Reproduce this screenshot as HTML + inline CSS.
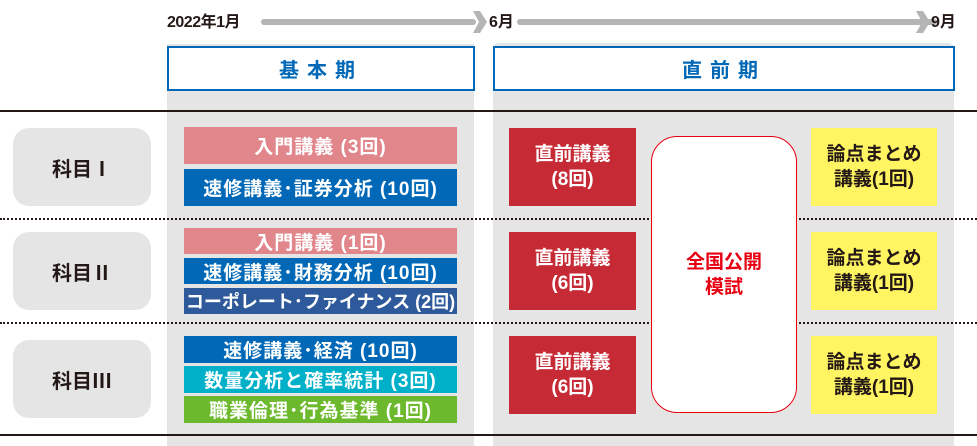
<!DOCTYPE html>
<html><head><meta charset="utf-8"><style>
body{margin:0;width:977px;height:446px;position:relative;overflow:hidden;background:#fff;font-family:"Liberation Sans","Noto Sans CJK JP",sans-serif;font-weight:bold}
div{position:absolute;box-sizing:border-box}
.c{display:flex;align-items:center;justify-content:center;text-align:center;white-space:nowrap}
.bar{left:184px;width:273px;color:#fff;font-size:19px;letter-spacing:1px}
.red{left:509px;width:127px;background:#c62a34;color:#fff;font-size:19px;line-height:25px}
.yel{left:811px;width:126px;background:#fff462;color:#231815;font-size:19px;line-height:25px}
.lab{left:13px;width:138px;background:#e5e5e5;border-radius:16px;font-size:20px;color:#231815}
.dot{left:0;width:977px;height:0;border-top:2px dotted #231815}
</style></head><body>
<div style="left:167px;top:44px;width:307px;height:402px;background:#e5e5e5"></div>
<div style="left:493px;top:43px;width:461px;height:403px;background:#e5e5e5;border-radius:6px 6px 0 0"></div>
<div style="left:167px;top:8px;font-size:16px;color:#231815;letter-spacing:-0.5px">2022年1月</div>
<div style="left:261px;top:19px;width:215px;height:6px;background:#b5b5b5;border-radius:3px"></div>
<svg style="position:absolute;left:473px;top:11px" width="15" height="22"><polygon points="0,0 7,0 14,11 7,22 0,22 6,11" fill="#b5b5b5"/></svg>
<div style="left:489px;top:8px;font-size:16px;color:#231815">6月</div>
<div style="left:517px;top:19px;width:420px;height:6px;background:#b5b5b5;border-radius:3px"></div>
<svg style="position:absolute;left:916px;top:11px" width="15" height="22"><polygon points="0,0 7,0 14,11 7,22 0,22 6,11" fill="#b5b5b5"/></svg>
<div style="left:931px;top:8px;font-size:16px;color:#231815">9月</div>
<div class="c" style="left:167px;top:46px;width:308px;height:45px;border:2px solid #0068b7;background:#fff;color:#0068b7;font-size:20px;letter-spacing:8px">基本期</div>
<div class="c" style="left:493px;top:46px;width:462px;height:45px;border:2px solid #0068b7;background:#fff;color:#0068b7;font-size:20px;letter-spacing:8px">直前期</div>
<div style="left:0;top:110px;width:977px;height:2px;background:#231815"></div>
<div style="left:0;top:434px;width:977px;height:2px;background:#231815"></div>
<div class="dot" style="top:218px"></div>
<div class="dot" style="top:322px"></div>
<div class="c lab" style="top:128px;height:78px">科目Ⅰ</div>
<div class="c lab" style="top:232px;height:78px">科目Ⅱ</div>
<div class="c lab" style="top:340px;height:78px">科目Ⅲ</div>
<div class="c bar" style="top:127px;height:37px;background:#e1868b">入門講義 (3回)</div>
<div class="c bar" style="top:169px;height:37px;background:#0068b7">速修講義･証券分析 (10回)</div>
<div class="c bar" style="top:228px;height:26px;background:#e1868b">入門講義 (1回)</div>
<div class="c bar" style="top:258px;height:26px;background:#0068b7">速修講義･財務分析 (10回)</div>
<div class="c bar" style="top:288px;height:26px;background:#2e5a9c;font-size:18px;letter-spacing:0">コーポレート･ファイナンス (2回)</div>
<div class="c bar" style="top:336px;height:27px;background:#0068b7">速修講義･経済 (10回)</div>
<div class="c bar" style="top:366px;height:27px;background:#00b0c8">数量分析と確率統計 (3回)</div>
<div class="c bar" style="top:396px;height:27px;background:#6cb92d">職業倫理･行為基準 (1回)</div>
<div class="c red" style="top:128px;height:78px">直前講義<br>(8回)</div>
<div class="c red" style="top:232px;height:78px">直前講義<br>(6回)</div>
<div class="c red" style="top:336px;height:78px">直前講義<br>(6回)</div>
<div class="c yel" style="top:128px;height:78px">論点まとめ<br>講義(1回)</div>
<div class="c yel" style="top:232px;height:78px">論点まとめ<br>講義(1回)</div>
<div class="c yel" style="top:336px;height:78px">論点まとめ<br>講義(1回)</div>
<div class="c" style="left:651px;top:136px;width:146px;height:277px;background:#fff;border:1.5px solid #e60012;border-radius:26px;color:#e60012;font-size:19px;line-height:25px">全国公開<br>模試</div>
</body></html>
